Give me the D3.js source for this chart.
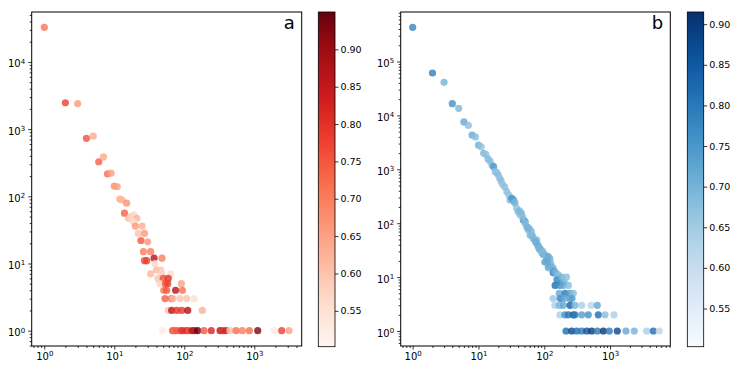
<!DOCTYPE html>
<html>
<head>
<meta charset="utf-8">
<script src="https://cdn.jsdelivr.net/npm/d3@7"></script>
<style>
  body { margin: 0; background: #fff; }
  svg { display: block; font-family: "DejaVu Sans", sans-serif; }
</style>
</head>
<body>
<div id="chart"></div>
<script>
// panel a: degree, count, colour value
var degA = [1, 2, 3, 4, 5, 6, 7, 8, 9, 10, 11, 12, 13, 15, 14, 16, 17, 19, 21, 18, 19, 20, 25, 22, 27, 24, 30, 26, 33,
  27, 29, 37, 48, 38, 40, 46, 33, 48, 64, 42, 50, 59, 45, 54, 58, 91, 51, 56, 75, 94,
  53, 65, 69, 87, 108, 138, 59, 66, 78, 92, 112, 181,
  49, 68, 72, 78, 89, 95, 108, 115, 130, 140, 155, 191, 243, 324, 354, 395, 450, 548, 674, 849, 1118, 1930, 2463, 3131]
var cntA = [32700, 2470, 2400, 730, 790, 327, 385, 215, 222, 142, 139, 91, 88, 79, 56, 47, 50, 53, 47, 44, 41, 36, 36, 28, 28, 22, 21, 15, 15,
  11, 11, 12, 12, 10, 8, 8, 7, 7, 7, 6, 6, 6, 5, 5, 5, 5, 4, 4, 4, 4,
  3, 3, 3, 3, 3, 3, 2, 2, 2, 2, 2, 2,
  1, 1, 1, 1, 1, 1, 1, 1, 1, 1, 1, 1, 1, 1, 1, 1, 1, 1, 1, 1, 1, 1, 1, 1]
var valA = [0.71, 0.78, 0.66, 0.76, 0.64, 0.74, 0.64, 0.72, 0.65, 0.68, 0.65, 0.64, 0.62, 0.67, 0.74, 0.62, 0.58, 0.57, 0.63, 0.57, 0.56, 0.66, 0.63, 0.60, 0.66, 0.75, 0.66, 0.70, 0.70,
  0.77, 0.78, 0.87, 0.70, 0.57, 0.62, 0.60, 0.62, 0.58, 0.56, 0.60, 0.76, 0.80, 0.58, 0.76, 0.78, 0.65, 0.72, 0.75, 0.87, 0.72,
  0.74, 0.72, 0.62, 0.60, 0.60, 0.56, 0.60, 0.86, 0.80, 0.79, 0.88, 0.63,
  0.53, 0.77, 0.72, 0.75, 0.78, 0.80, 0.82, 0.76, 0.88, 0.85, 0.95, 0.75, 0.82, 0.86, 0.80, 0.83, 0.60, 0.72, 0.70, 0.72, 0.93, 0.53, 0.78, 0.65]

// panel b
var degB = [1, 2, 3, 4, 5, 6, 7, 8, 9, 10, 11, 12, 13, 14, 15, 16, 17, 18, 19, 20, 21, 22, 23, 25, 27, 29, 30, 32, 34, 36, 38, 40, 43, 45,
  48, 51, 51, 54, 55, 57, 61, 61, 64, 64, 68, 72, 77, 77, 81, 81, 86, 88, 92, 97, 102, 108, 115, 122, 102, 125, 115, 129, 137,
  35, 42, 47, 58, 66, 74, 84, 95, 110, 120, 135, 140, 150, 160, 175, 200,
  163, 155, 184, 218, 146, 172, 194, 232, 169, 207, 246, 276, 184, 246, 136, 173, 205, 264,
  145, 169, 194, 246, 293, 370, 513, 639,
  173, 206, 232, 276, 293, 370, 466, 662, 837, 1146,
  214, 261, 311, 370, 441, 525, 639, 789, 972, 1286, 1745, 2332, 3597, 4540, 5594]
var cntB = [431000, 61200, 41100, 16500, 13550, 7550, 6550, 4330, 3980, 2820, 2620, 1980, 1890, 1550, 1420, 1200, 1117, 902, 865, 783, 680, 615, 534, 475, 384, 333, 269, 290, 270, 234, 189, 163, 142, 153,
  115, 107, 100, 86, 86, 75, 75, 60, 70, 60, 52, 49, 49, 42, 39, 37, 34, 32, 28, 26, 26, 24, 24, 22, 19, 18, 15, 14, 12,
  250, 170, 130, 80, 58, 45, 33, 30, 20, 16, 15, 13, 12, 9, 8, 8,
  11, 9, 10, 10, 7, 7, 7, 7, 5, 5, 5, 5, 4, 4, 4, 4, 4, 4,
  3, 3, 3, 3, 3, 3, 3, 3,
  2, 2, 2, 2, 2, 2, 2, 2, 2, 2,
  1, 1, 1, 1, 1, 1, 1, 1, 1, 1, 1, 1, 1, 1, 1]
var valB = [0.78, 0.79, 0.70, 0.76, 0.69, 0.72, 0.68, 0.72, 0.68, 0.71, 0.67, 0.70, 0.67, 0.69, 0.68, 0.68, 0.75, 0.68, 0.67, 0.68, 0.67, 0.68, 0.67, 0.68, 0.68, 0.67, 0.68, 0.76, 0.74, 0.68, 0.67, 0.68, 0.67, 0.69,
  0.76, 0.75, 0.68, 0.67, 0.70, 0.68, 0.67, 0.69, 0.67, 0.68, 0.69, 0.70, 0.67, 0.68, 0.67, 0.72, 0.68, 0.70, 0.68, 0.72, 0.70, 0.68, 0.72, 0.70, 0.74, 0.70, 0.72, 0.66, 0.80,
  0.70, 0.69, 0.68, 0.70, 0.69, 0.71, 0.70, 0.69, 0.72, 0.71, 0.70, 0.73, 0.70, 0.72, 0.75, 0.70,
  0.68, 0.75, 0.70, 0.68, 0.82, 0.76, 0.72, 0.68, 0.72, 0.80, 0.74, 0.68, 0.70, 0.72, 0.66, 0.76, 0.72, 0.74,
  0.64, 0.70, 0.72, 0.84, 0.70, 0.64, 0.62, 0.72,
  0.64, 0.76, 0.80, 0.84, 0.80, 0.74, 0.76, 0.82, 0.68, 0.64,
  0.82, 0.88, 0.82, 0.80, 0.86, 0.90, 0.80, 0.91, 0.80, 0.88, 0.72, 0.70, 0.64, 0.82, 0.62]

var cbTicks = [0.55, 0.60, 0.65, 0.70, 0.75, 0.80, 0.85, 0.90]

var svg = d3.select("#chart").append("svg")
  .attr("width", 747)
  .attr("height", 374)

function logTicks(domain) {
  var major = [], minor = []
  var lo = Math.floor(Math.log10(domain[0])), hi = Math.ceil(Math.log10(domain[1]))
  for (var e = lo; e <= hi; e++) {
    for (var k = 1; k < 10; k++) {
      var v = k * Math.pow(10, e)
      if (v < domain[0] || v > domain[1]) continue
      if (k == 1) major.push(v); else minor.push(v)
    }
  }
  return [major, minor]
}

function powerLabels(g) {
  g.selectAll(".tick text").each(function(d) {
    var t = d3.select(this)
    t.text("10")
    t.append("tspan").attr("dy", "-0.5em").attr("font-size", "7px")
      .text(Math.round(Math.log10(d)))
  })
}

function makePanel(p) {
  var x = d3.scaleLog().domain(p.xdom).range([p.left, p.right])
  var y = d3.scaleLog().domain(p.ydom).range([p.bottom, p.top])
  var color = d3.scaleSequential(p.cmap).domain(p.cdom)

  var xt = logTicks(p.xdom), yt = logTicks(p.ydom)

  // minor ticks
  svg.append("g").attr("transform", "translate(0," + p.bottom + ")")
    .call(d3.axisBottom(x).tickValues(xt[1]).tickSize(2).tickFormat(""))
    .call(function(g) { g.select(".domain").remove() })
  svg.append("g").attr("transform", "translate(" + p.left + ",0)")
    .call(d3.axisLeft(y).tickValues(yt[1]).tickSize(2).tickFormat(""))
    .call(function(g) { g.select(".domain").remove() })

  // major ticks
  svg.append("g").attr("transform", "translate(0," + p.bottom + ")")
    .call(d3.axisBottom(x).tickValues(xt[0]).tickSize(3.5).tickPadding(3))
    .call(function(g) { g.select(".domain").remove() })
    .call(function(g) { g.selectAll("text").attr("font-size", "10px").attr("font-family", "DejaVu Sans").attr("fill", "#000") })
    .call(powerLabels)
  svg.append("g").attr("transform", "translate(" + p.left + ",0)")
    .call(d3.axisLeft(y).tickValues(yt[0]).tickSize(3.5).tickPadding(3))
    .call(function(g) { g.select(".domain").remove() })
    .call(function(g) { g.selectAll("text").attr("font-size", "10px").attr("font-family", "DejaVu Sans").attr("fill", "#000").attr("dy", "0.5em") })
    .call(powerLabels)

  svg.selectAll(".tick line").attr("stroke", "#000").attr("stroke-width", 0.8)

  var pts = p.deg.map(function(d, i) { return [d, p.cnt[i], p.val[i]] })
  svg.append("g").selectAll("circle")
    .data(pts)
    .enter().append("circle")
    .attr("cx", function(d) { return x(d[0]) })
    .attr("cy", function(d) { return y(d[1]) })
    .attr("r", 3.6)
    .attr("fill", function(d) { return color(d[2]) })
    .attr("fill-opacity", 0.8)

  svg.append("rect")
    .attr("x", p.left).attr("y", p.top)
    .attr("width", p.right - p.left).attr("height", p.bottom - p.top)
    .attr("fill", "none").attr("stroke", "#000").attr("stroke-width", 1)

  svg.append("text")
    .attr("x", p.right - 7).attr("y", p.top + 17)
    .attr("text-anchor", "end")
    .attr("font-size", "18px")
    .text(p.label)

  // colorbar
  var cb = p.cb
  var gid = "grad" + p.label
  var grad = svg.append("defs").append("linearGradient")
    .attr("id", gid).attr("x1", 0).attr("y1", 1).attr("x2", 0).attr("y2", 0)
  d3.range(0, 1.0001, 0.05).forEach(function(t) {
    grad.append("stop").attr("offset", t)
      .attr("stop-color", color(p.cdom[0] + t * (p.cdom[1] - p.cdom[0])))
  })
  svg.append("rect")
    .attr("x", cb.x0).attr("y", cb.y0)
    .attr("width", cb.x1 - cb.x0).attr("height", cb.y1 - cb.y0)
    .attr("fill", "url(#" + gid + ")")
    .attr("stroke", "#000").attr("stroke-width", 0.8)
  var cs = d3.scaleLinear().domain(p.cdom).range([cb.y1, cb.y0])
  svg.append("g").attr("transform", "translate(" + cb.x1 + ",0)")
    .call(d3.axisRight(cs).tickValues(cbTicks).tickSize(3.5).tickPadding(2).tickFormat(d3.format(".2f")))
    .call(function(g) { g.select(".domain").remove() })
    .call(function(g) {
      g.selectAll("text").attr("font-size", "9.5px").attr("font-family", "DejaVu Sans").attr("fill", "#000")
      g.selectAll("line").attr("stroke", "#000").attr("stroke-width", 0.8)
    })
}

makePanel({
  deg: degA, cnt: cntA, val: valA, label: "a",
  left: 31.7, right: 301.7, top: 12, bottom: 346,
  xdom: [Math.pow(10, -0.18), Math.pow(10, 3.677)],
  ydom: [Math.pow(10, -0.228), Math.pow(10, 4.743)],
  cmap: d3.interpolateReds, cdom: [0.502, 0.950],
  cb: {x0: 318.3, x1: 335, y0: 12, y1: 346.7}
})

makePanel({
  deg: degB, cnt: cntB, val: valB, label: "b",
  left: 400.7, right: 670.3, top: 12, bottom: 346,
  xdom: [Math.pow(10, -0.182), Math.pow(10, 3.915)],
  ydom: [Math.pow(10, -0.278), Math.pow(10, 5.918)],
  cmap: d3.interpolateBlues, cdom: [0.503, 0.915],
  cb: {x0: 687.3, x1: 703.7, y0: 12, y1: 346.7}
})
</script>
</body>
</html>
